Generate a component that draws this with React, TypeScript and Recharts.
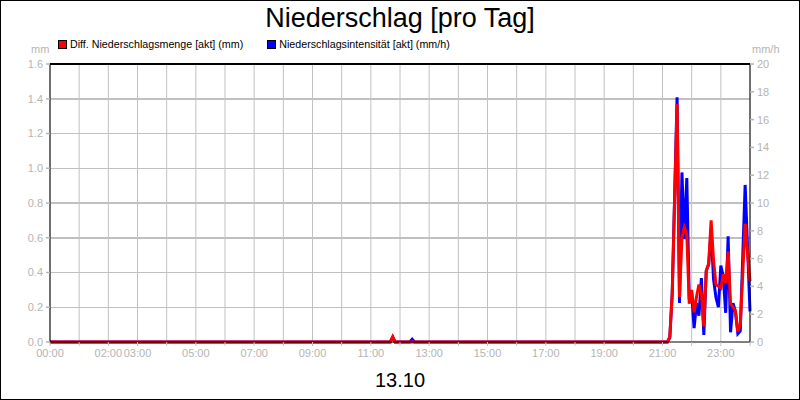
import React from "react";
import {
  ComposedChart,
  Line,
  XAxis,
  YAxis,
  CartesianGrid,
  ReferenceLine,
} from "recharts";

// Zeitpunkte (13.10), Werte je Serie
const times = [
  "00:00", "11:40", "11:45", "11:50", "12:20", "12:25", "12:30",
  "21:10", "21:15", "21:20", "21:30", "21:35", "21:40", "21:45", "21:50",
  "21:55", "22:00", "22:05", "22:10", "22:15", "22:20", "22:25", "22:30",
  "22:35", "22:40", "22:45", "22:50", "22:55", "23:00", "23:05", "23:10",
  "23:15", "23:20", "23:25", "23:30", "23:35", "23:40", "23:50", "24:00",
];

// Diff. Niederschlagsmenge [akt] (mm)
const mengeMm = [
  0, 0, 0.03, 0, 0, 0, 0,
  0, 0.03, 0.28, 1.37, 0.26, 0.6, 0.66, 0.62,
  0.22, 0.3, 0.17, 0.26, 0.33, 0.28, 0.09, 0.41,
  0.45, 0.7, 0.47, 0.33, 0.32, 0.31, 0.39, 0.34,
  0.52, 0.22, 0.2, 0.18, 0.06, 0.1, 0.68, 0.35,
];

// Niederschlagsintensität [akt] (mm/h)
const intensitaet = [
  0, 0, 0.35, 0, 0, 0.2, 0,
  0, 0.3, 3.5, 17.6, 2.8, 12.2, 7.4, 11.8,
  3.1, 3.5, 1.0, 2.8, 1.9, 4.6, 0.5, 5.1,
  5.6, 8.0, 4.5, 3.2, 2.5, 5.5, 4.7, 2.1,
  7.6, 0.7, 2.8, 2.2, 0.6, 0.8, 11.3, 2.2,
];

const xLabels = [
  "00:00", "02:00", "03:00", "05:00", "07:00", "09:00", "11:00",
  "13:00", "15:00", "17:00", "19:00", "21:00", "23:00",
];
const leftTicks = [0, 0.2, 0.4, 0.6, 0.8, 1.0, 1.2, 1.4, 1.6];
const rightTicks = [0, 2, 4, 6, 8, 10, 12, 14, 16, 18, 20];

const toMin = (s: string) => {
  const [h, m] = s.split(":").map(Number);
  return h * 60 + m;
};

const data = times.map((t, i) => ({
  t: toMin(t),
  menge: mengeMm[i],
  rate: intensitaet[i],
}));

const hourTicks = Array.from({ length: 25 }, (_, i) => i * 60);

const FONT = '"Liberation Sans", Arial, sans-serif';
const GRAY = "#b4b4b4";
const GRID = "#c0c0c0";

const App = () => {
  const tickStyle = { fill: GRAY, fontSize: 11, fontFamily: FONT };

  return (
    <div
      style={{
        position: "absolute",
        left: 0,
        top: 0,
        width: 800,
        height: 400,
        background: "#fff",
        fontFamily: FONT,
      }}
    >
      <ComposedChart
        width={800}
        height={400}
        data={data}
        margin={{ top: 64, right: 0, left: 0, bottom: 0 }}
      >
        <CartesianGrid stroke={GRID} horizontal={false} />
        <XAxis
          dataKey="t"
          type="number"
          domain={[0, 1440]}
          ticks={hourTicks}
          interval={0}
          height={58}
          tick={tickStyle}
          tickSize={4}
          tickMargin={3}
          tickLine={{ stroke: GRID }}
          axisLine={{ stroke: "#000" }}
          tickFormatter={(v: number) => {
            const h = String(Math.floor(v / 60)).padStart(2, "0") + ":00";
            return xLabels.includes(h) && v < 1440 ? h : "";
          }}
        />
        <YAxis
          domain={[0, 1.6]}
          ticks={leftTicks}
          width={50}
          tick={tickStyle}
          tickSize={4}
          tickMargin={3}
          tickLine={{ stroke: GRAY, strokeWidth: 1.5 }}
          axisLine={{ stroke: "#000" }}
          tickFormatter={(v: number) => v.toFixed(1)}
        />
        <YAxis
          yAxisId="right"
          orientation="right"
          domain={[0, 20]}
          ticks={rightTicks}
          width={50}
          tick={tickStyle}
          tickSize={4}
          tickMargin={3}
          tickLine={{ stroke: GRAY, strokeWidth: 1.5 }}
          axisLine={{ stroke: "#000" }}
        />
        {/* horizontale Gitterlinien */}
        {leftTicks.slice(1, -1).map((v) => (
          <ReferenceLine
            key={v}
            y={v}
            stroke={GRID}
            strokeWidth={1.5}
            shapeRendering="crispEdges"
          />
        ))}
        {/* obere Rahmenlinie */}
        <ReferenceLine y={1.6} stroke="#000" strokeWidth={1.5} shapeRendering="crispEdges" />
        <Line
          yAxisId="right"
          type="linear"
          dataKey="rate"
          stroke="#0000ff"
          strokeWidth={3}
          dot={false}
          activeDot={false}
          isAnimationActive={false}
        />
        <Line
          type="linear"
          dataKey="menge"
          stroke="#ff0000"
          strokeWidth={3}
          dot={false}
          activeDot={false}
          isAnimationActive={false}
        />
      </ComposedChart>

      {/* Titel */}
      <div
        style={{
          position: "absolute",
          top: 3,
          left: 0,
          width: 800,
          textAlign: "center",
          fontSize: 27,
          lineHeight: "30px",
        }}
      >
        Niederschlag [pro Tag]
      </div>

      {/* Legende */}
      <div
        style={{
          position: "absolute",
          top: 37,
          left: 58,
          display: "flex",
          alignItems: "center",
          fontSize: 10.7,
          lineHeight: "14px",
        }}
      >
        <span
          style={{
            width: 7,
            height: 7,
            background: "#ff0000",
            border: "1px solid #000",
            marginRight: 3,
          }}
        />
        <span>Diff. Niederschlagsmenge [akt] (mm)</span>
        <span
          style={{
            width: 7,
            height: 7,
            background: "#0000ff",
            border: "1px solid #000",
            marginLeft: 24,
            marginRight: 3,
          }}
        />
        <span>Niederschlagsintensität [akt] (mm/h)</span>
      </div>

      {/* Einheiten */}
      <div style={{ position: "absolute", top: 43, left: 31, fontSize: 11, color: GRAY }}>mm</div>
      <div style={{ position: "absolute", top: 43, left: 752, fontSize: 11, color: GRAY }}>mm/h</div>

      {/* Datum */}
      <div
        style={{
          position: "absolute",
          top: 368,
          left: 0,
          width: 800,
          textAlign: "center",
          fontSize: 20,
          lineHeight: "24px",
        }}
      >
        13.10
      </div>

      {/* Rahmen */}
      <div
        style={{
          position: "absolute",
          left: 0,
          top: 0,
          width: 800,
          height: 400,
          boxSizing: "border-box",
          border: "1px solid #000",
          pointerEvents: "none",
        }}
      />
    </div>
  );
};

export default App;
